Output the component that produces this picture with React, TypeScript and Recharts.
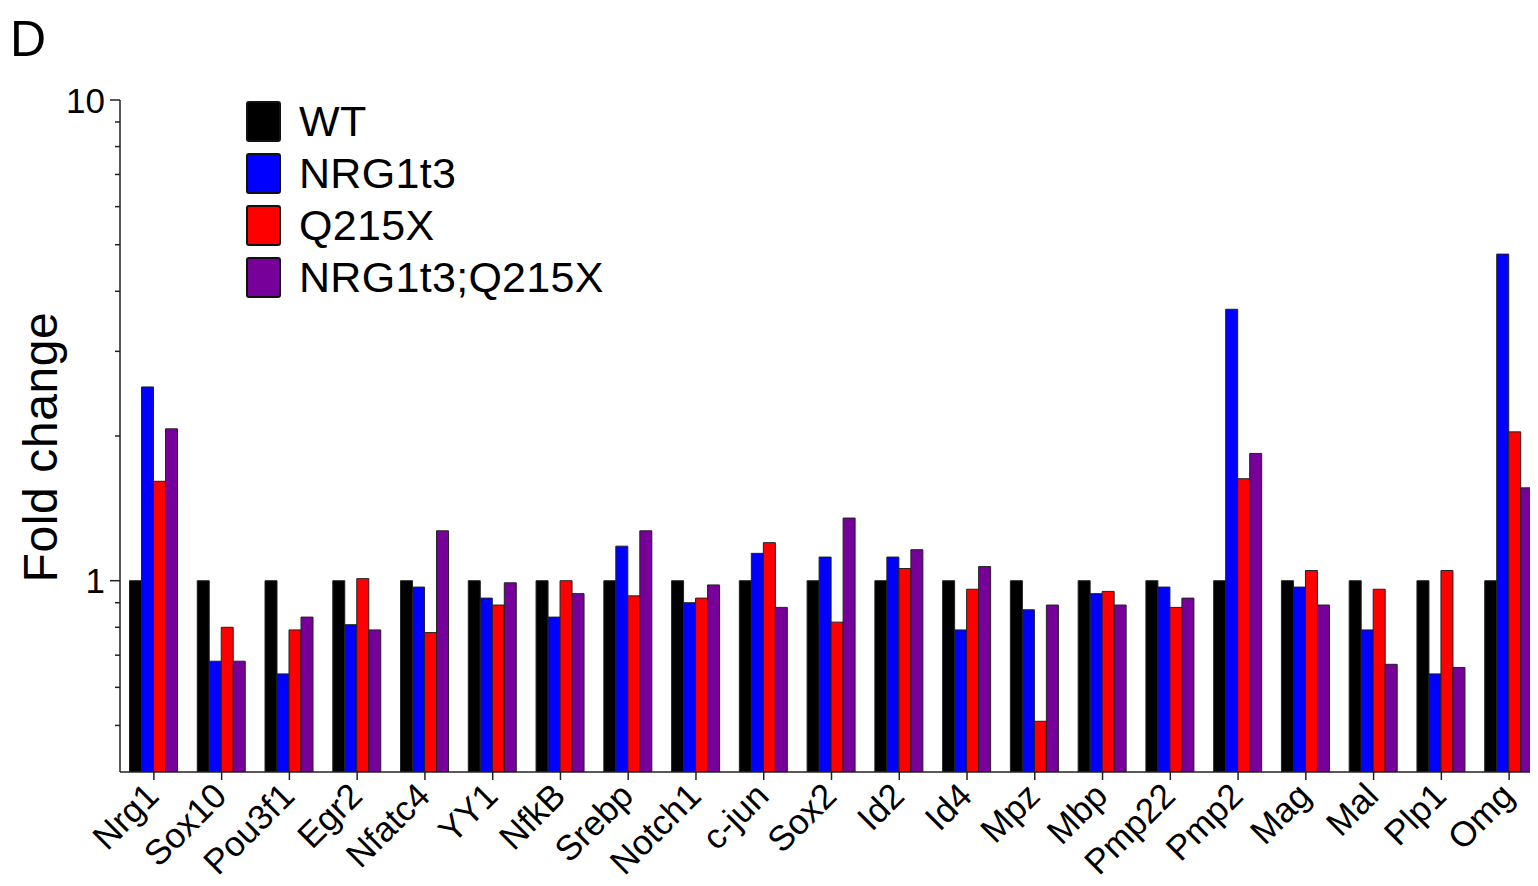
import { BarChart, Bar, XAxis, YAxis } from "recharts";

const genes = [
  "Nrg1", "Sox10", "Pou3f1", "Egr2", "Nfatc4", "YY1", "NfkB", "Srebp", "Notch1", "c-jun", "Sox2",
  "Id2", "Id4", "Mpz", "Mbp", "Pmp22", "Pmp2", "Mag", "Mal", "Plp1", "Omg",
];
const wt = [1, 1, 1, 1, 1, 1, 1, 1, 1, 1, 1, 1, 1, 1, 1, 1, 1, 1, 1, 1, 1];
const nrg1t3 = [2.53, 0.68, 0.64, 0.81, 0.97, 0.92, 0.84, 1.18, 0.9, 1.14, 1.12, 1.12, 0.79, 0.87, 0.94, 0.97, 3.67, 0.97, 0.79, 0.64, 4.78];
const q215x = [1.61, 0.8, 0.79, 1.01, 0.78, 0.89, 1.0, 0.93, 0.92, 1.2, 0.82, 1.06, 0.96, 0.51, 0.95, 0.88, 1.63, 1.05, 0.96, 1.05, 2.04];
const nrg1t3Q215x = [2.07, 0.68, 0.84, 0.79, 1.27, 0.99, 0.94, 1.27, 0.98, 0.88, 1.35, 1.16, 1.07, 0.89, 0.89, 0.92, 1.84, 0.89, 0.67, 0.66, 1.56];

const majorTicks = [1, 10];
const minorTicks = [0.5, 0.6, 0.7, 0.8, 0.9, 2, 3, 4, 5, 6, 7, 8, 9];

const series = [
  { key: "wt", name: "WT", color: "#000000" },
  { key: "nrg1t3", name: "NRG1t3", color: "#0000ff" },
  { key: "q215x", name: "Q215X", color: "#ff0000" },
  { key: "double", name: "NRG1t3;Q215X", color: "#760099" },
];

const data = genes.map((g, i) => ({
  gene: g,
  wt: wt[i],
  nrg1t3: nrg1t3[i],
  q215x: q215x[i],
  double: nrg1t3Q215x[i],
}));

const FONT = "'Liberation Sans', Arial, sans-serif";

const YTick = (props: any) => {
  const { x, y, payload } = props;
  const major = majorTicks.includes(payload.value);
  return (
    <g>
      <line x1={x - (major ? 10 : 5)} x2={x} y1={y} y2={y} stroke="#222" strokeWidth={1.5} />
      {major && (
        <text x={x - 15} y={y} dy="0.36em" textAnchor="end" fontSize={35} fontFamily={FONT} fill="#000">
          {payload.value}
        </text>
      )}
    </g>
  );
};

const XTick = (props: any) => {
  const { x, y, payload } = props;
  return (
    <g transform={`translate(${x + 7},${y + 18})`}>
      <text transform="rotate(-45)" textAnchor="end" fontSize={35} fontFamily={FONT} fill="#000">
        {payload.value}
      </text>
    </g>
  );
};

const yLabel = () => (
  <text
    x={32}
    y={439}
    transform="rotate(-90 32 439)"
    textAnchor="middle"
    dominantBaseline="central"
    fontSize={48}
    letterSpacing={0.6}
    fontFamily={FONT}
    fill="#000"
  >
    Fold change
  </text>
);

export default function App() {
  return (
    <div
      style={{
        width: 1530,
        height: 878,
        marginBottom: -8,
        overflow: "hidden",
        position: "relative",
        background: "#fff",
      }}
    >
      <div style={{ position: "absolute", left: 2, top: 6, fontSize: 50, fontFamily: FONT, lineHeight: 1 }}>D</div>
      <div style={{ position: "absolute", left: 238, top: 87, fontFamily: FONT, zIndex: 2 }}>
        {series.map(s => (
          <div key={s.key} style={{ display: "flex", alignItems: "center", height: 52 }}>
            <div
              style={{
                width: 31,
                height: 37,
                background: s.color,
                border: "2px solid #111",
                borderRadius: 3,
                marginRight: 18,
              }}
            />
            <span style={{ fontSize: 43, letterSpacing: 0.3, color: "#000", whiteSpace: "nowrap" }}>{s.name}</span>
          </div>
        ))}
      </div>
      <BarChart
        width={1545}
        height={878}
        data={data}
        margin={{ top: 92, right: 10, bottom: 0, left: 0 }}
        barCategoryGap="14%"
        barGap={0}
      >
        <XAxis
          dataKey="gene"
          interval={0}
          height={114}
          tickSize={8}
          tickMargin={0}
          tick={<XTick />}
          axisLine={{ stroke: "#222", strokeWidth: 1.5 }}
          tickLine={{ stroke: "#222", strokeWidth: 1.5 }}
        />
        <YAxis
          scale="log"
          domain={[0.4, 10]}
          allowDataOverflow
          ticks={[...minorTicks, ...majorTicks].sort((a, b) => a - b)}
          interval={0}
          width={112}
          tickSize={0}
          tickMargin={0}
          tickLine={false}
          tick={<YTick />}
          axisLine={{ stroke: "#222", strokeWidth: 1.5 }}
          label={yLabel}
        />
        {series.map(s => (
          <Bar
            key={s.key}
            dataKey={s.key}
            name={s.name}
            fill={s.color}
            stroke="#222"
            strokeWidth={1}
            isAnimationActive={false}
          />
        ))}
      </BarChart>
    </div>
  );
}
